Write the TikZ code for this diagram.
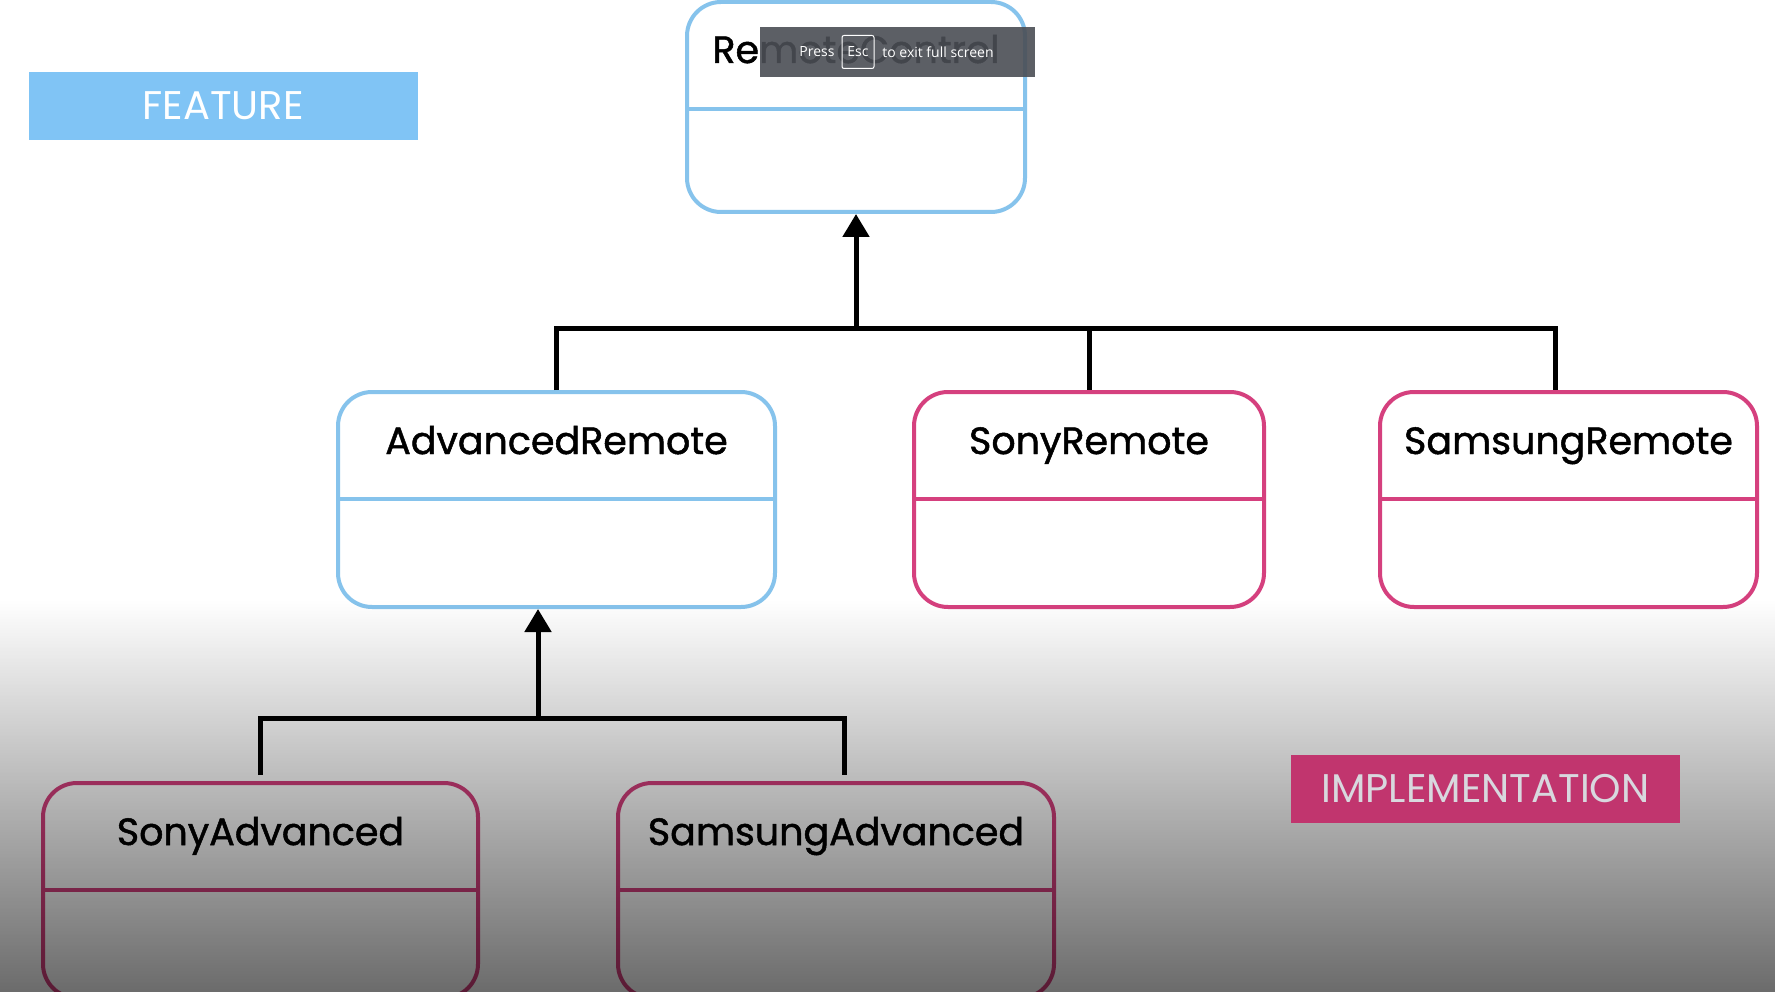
\documentclass[tikz,border=0pt]{standalone}
\usepackage{fontspec}
\setmainfont{Poppins}
\newfontfamily\titlefont{Poppins}[FakeBold=1.3]
\newfontfamily\uifont{Open Sans}
\usetikzlibrary{arrows.meta,fadings}

\definecolor{featblue}{HTML}{80C4F5}
\definecolor{lineblue}{HTML}{86C3EC}
\definecolor{linepink}{HTML}{D5407E}
\definecolor{implpink}{HTML}{C1356E}
\definecolor{impltext}{HTML}{D8D8DE}
\definecolor{popupgray}{HTML}{4B4E55}

\tikzfading[name=darkdown, top color=transparent!100, bottom color=transparent!0]

\tikzset{
  classbox/.style={draw=#1, line width=4pt, rounded corners=34pt, minimum height=215pt, inner sep=0pt},
  classname/.style={font=\titlefont\fontsize{38}{45}\selectfont, text=black, anchor=base},
  tagbox/.style={minimum width=389pt, minimum height=68pt, inner sep=0pt, font=\fontsize{40}{48}\selectfont},
  popuptext/.style={font=\uifont\fontsize{14}{17}\selectfont, text=white, inner sep=0pt},
  link/.style={line width=5pt, black},
  inherit/.style={link, -{Triangle[width=26pt,length=23pt]}},
}

\begin{document}
\begin{tikzpicture}[x=1pt,y=-1pt]
\useasboundingbox (0,0) rectangle (1781,992);
\fill[white] (0,0) rectangle (1781,992);

\node[tagbox, fill=featblue, text=white] (feature) at (223,106) {FEATURE};

\node[classbox=lineblue, minimum width=338pt, minimum height=210pt] (rc) at (856,107) {};
\node[classbox=lineblue, minimum width=437pt] (adv) at (556.5,499.5) {};
\node[classbox=linepink, minimum width=350pt] (sony) at (1089,499.5) {};
\node[classbox=linepink, minimum width=377pt] (samsung) at (1568.5,499.5) {};
\node[classbox=linepink, minimum width=435pt] (sonyadv) at (260.5,890.5) {};
\node[classbox=linepink, minimum width=436pt] (samsungadv) at (836,890.5) {};

\foreach \n/\c in {rc/lineblue, adv/lineblue, sony/linepink, samsung/linepink, sonyadv/linepink, samsungadv/linepink}
  \draw[\c, line width=4pt] ([yshift=-109pt]\n.north west) -- ([yshift=-109pt]\n.north east);

\node[classname] (rc-name) at ([yshift=-63pt]rc.north) {RemoteControl};
\node[classname] (adv-name) at ([yshift=-64pt]adv.north) {AdvancedRemote};
\node[classname] (sony-name) at ([yshift=-64pt]sony.north) {SonyRemote};
\node[classname] (samsung-name) at ([yshift=-64pt]samsung.north) {SamsungRemote};
\node[classname] (sonyadv-name) at ([yshift=-64pt]sonyadv.north) {SonyAdvanced};
\node[classname] (samsungadv-name) at ([yshift=-64pt]samsungadv.north) {SamsungAdvanced};

\coordinate (top-join) at (856,329);
\coordinate (low-join) at (538,718);
\draw[inherit] (top-join) -- (rc.south);
\draw[link] (adv.north) |- (top-join) -| ([xshift=-13.5pt]samsung.north);
\draw[link] (top-join) -| (sony.north);
\draw[inherit] (low-join) -- (low-join |- adv.south);
\draw[link, shorten <=6pt, shorten >=6pt] (sonyadv.north) |- (low-join) -| ([xshift=8pt]samsungadv.north);

\fill[black, path fading=darkdown, fill opacity=0.58] (0,600) rectangle (1781,992);

\node[tagbox, fill=implpink, text=impltext] (impl) at (1485.5,789) {IMPLEMENTATION};

\node[fill=popupgray, fill opacity=0.9, minimum width=275pt, minimum height=50pt, inner sep=0pt] (popup) at (897.5,52.5) {};
\node[popuptext] (press) at (817,52) {Press};
\node[popuptext, draw=white, line width=1pt, rounded corners=2pt, minimum width=32pt, minimum height=33pt] (esc) at (858,52) {Esc};
\node[popuptext] (exit) at (938,52) {to exit full screen};
\end{tikzpicture}
\end{document}
